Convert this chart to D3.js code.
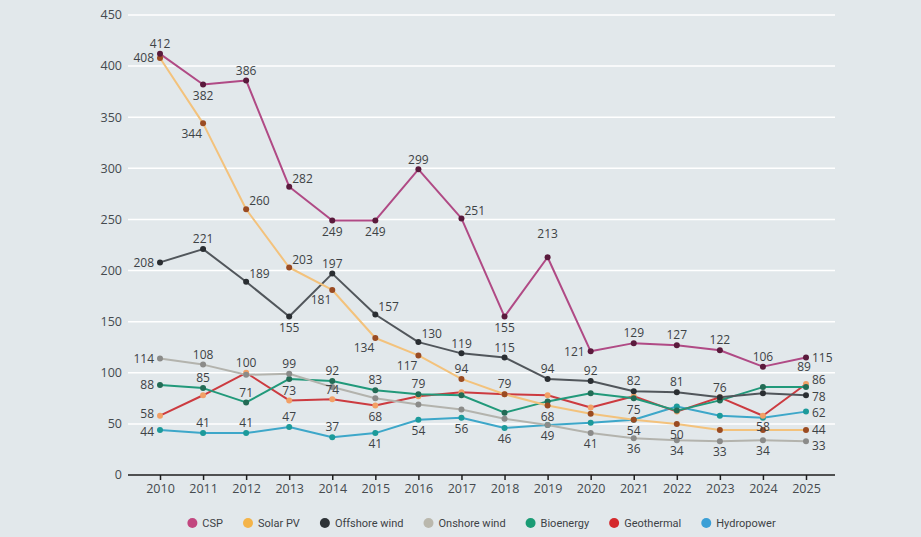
<!DOCTYPE html>
<html>
<head>
<meta charset="utf-8">
<script src="https://cdn.jsdelivr.net/npm/d3@7"></script>
<style>
  html, body { margin: 0; padding: 0; background: #e2e8eb; }
  svg { display: block; font-family: "Open Sans", sans-serif; }
</style>
</head>
<body>
<div id="chart"></div>
<script>
const years = [2010, 2011, 2012, 2013, 2014, 2015, 2016, 2017, 2018, 2019, 2020, 2021, 2022, 2023, 2024, 2025];
const yTicks = [0, 50, 100, 150, 200, 250, 300, 350, 400, 450];

const csp = [412, 382, 386, 282, 249, 249, 299, 251, 155, 213, 121, 129, 127, 122, 106, 115];
const solarPv = [408, 344, 260, 203, 181, 134, 117, 94, 79, 68, 60, 54, 50, 44, 44, 44];
const offshoreWind = [208, 221, 189, 155, 197, 157, 130, 119, 115, 94, 92, 82, 81, 76, 80, 78];
const onshoreWind = [114, 108, 98, 99, 86, 75, 69, 64, 55, 49, 41, 36, 34, 33, 34, 33];
const bioenergy = [88, 85, 71, 94, 92, 83, 79, 78, 61, 72, 80, 75, 63, 73, 86, 86];
const geothermal = [58, 78, 100, 73, 74, 68, 77, 81, 79, 78, 66, 77, 62, 76, 58, 89];
const hydropower = [44, 41, 41, 47, 37, 41, 54, 56, 46, 49, 51, 54, 67, 58, 56, 62];

// where each value label sits: a=above b=below l=left r=right ar=above-right bl=below-left aa=high above,
// ah = a bit higher, lu/ld = left nudged up/down, ''=none
const cspLbl = ['a', 'b', 'a', 'ar', 'b', 'b', 'a', 'ar', 'b', 'aa', 'l', 'a', 'a', 'a', 'a', 'r'];
const solarPvLbl = ['l', 'bl', 'ar', 'ar', 'bl', 'bl', 'bl', 'a', 'a', 'b', '', '', 'b', '', '', 'r'];
const offshoreLbl = ['l', 'a', 'ar', 'b', 'a', 'ar', 'ar', 'a', 'a', 'a', 'a', 'a', 'a', 'a', '', 'r'];
const onshoreLbl = ['l', 'a', '', 'a', '', '', '', '', '', '', 'b', 'b', 'b', 'b', 'b', 'r'];
const bioLbl = ['l', 'a', 'a', '', 'a', 'a', 'a', '', '', '', '', 'b', '', '', '', 'r'];
const geoLbl = ['lu', '', 'a', 'a', 'a', 'b', '', '', '', '', '', '', '', '', 'b', 'ah'];
const hydroLbl = ['ld', 'a', 'a', 'a', 'a', 'b', 'b', 'b', 'b', 'b', '', 'b', '', '', '', 'r'];

const series = [
    { name: 'CSP', values: csp, labels: cspLbl, line: '#b04a85', dot: '#5a1a3c', key: '#c2477f' },
    { name: 'Solar PV', values: solarPv, labels: solarPvLbl, line: '#f3c27c', dot: '#9a4b22', key: '#f4b449' },
    { name: 'Offshore wind', values: offshoreWind, labels: offshoreLbl, line: '#51565b', dot: '#2a2e32', key: '#2e3337' },
    { name: 'Onshore wind', values: onshoreWind, labels: onshoreLbl, line: '#b3b3ad', dot: '#8b8b89', key: '#bab8ad' },
    { name: 'Bioenergy', values: bioenergy, labels: bioLbl, line: '#21997a', dot: '#236b55', key: '#1a9c75' },
    { name: 'Geothermal', values: geothermal, labels: geoLbl, line: '#cc3b40', dot: '#f2a066', key: '#d4292c' },
    { name: 'Hydropower', values: hydropower, labels: hydroLbl, line: '#3da7c9', dot: '#1c9a9a', key: '#3a9fd6' }
];

const W = 921, H = 537;
const plot = { left: 128, right: 835, top: 15, bottom: 475 };

const svg = d3.select('#chart').append('svg')
    .attr('width', W)
    .attr('height', H);

svg.append('rect').attr('width', W).attr('height', H).attr('fill', '#e2e8eb');

const x = d3.scaleLinear().domain([2010, 2025]).range([160, 806]);
const y = d3.scaleLinear().domain([0, 450]).range([plot.bottom, plot.top]);

// gridlines + y labels
const grid = svg.append('g');
grid.selectAll('line')
    .data(yTicks.filter(t => t > 0))
    .enter().append('line')
    .attr('x1', plot.left).attr('x2', plot.right)
    .attr('y1', d => y(d)).attr('y2', d => y(d))
    .attr('stroke', '#ffffff')
    .attr('stroke-width', 1.5);

grid.selectAll('text')
    .data(yTicks)
    .enter().append('text')
    .attr('x', 122)
    .attr('y', d => y(d))
    .attr('dy', '.35em')
    .attr('text-anchor', 'end')
    .attr('font-size', 12.5)
    .attr('fill', '#454a4e')
    .text(d => d);

// x axis
const xAxis = d3.axisBottom(x)
    .tickValues(years)
    .tickFormat(d3.format('d'))
    .tickSize(5)
    .tickPadding(4);

const xg = svg.append('g')
    .attr('transform', `translate(0,${plot.bottom})`)
    .call(xAxis);
xg.select('.domain').remove();
xg.append('line')
    .attr('x1', plot.left).attr('x2', plot.right)
    .attr('stroke', '#1e1e1e').attr('stroke-width', 1.5);
xg.selectAll('.tick line').attr('stroke', '#1e1e1e').attr('stroke-width', 1.5);
xg.selectAll('.tick text')
    .attr('font-size', 12.5)
    .attr('font-family', '"Open Sans", sans-serif')
    .attr('fill', '#454a4e');

// lines
const line = d3.line()
    .x((d, i) => x(years[i]))
    .y(d => y(d));

const lines = svg.append('g');
series.slice().reverse().forEach(s => {
    lines.append('path')
        .datum(s.values)
        .attr('fill', 'none')
        .attr('stroke', s.line)
        .attr('stroke-width', 2)
        .attr('stroke-linejoin', 'round')
        .attr('d', line);
});

const dots = svg.append('g');
series.slice().reverse().forEach(s => {
    dots.selectAll(null)
        .data(s.values)
        .enter().append('circle')
        .attr('cx', (d, i) => x(years[i]))
        .attr('cy', d => y(d))
        .attr('r', 3)
        .attr('fill', s.dot);
});

// value labels
const place = {
    a: { dx: 0, dy: -10, anchor: 'middle' },
    ah: { dx: -2, dy: -17, anchor: 'middle' },
    aa: { dx: 0, dy: -23, anchor: 'middle' },
    b: { dx: 0, dy: 11, anchor: 'middle' },
    l: { dx: -6, dy: 0, anchor: 'end' },
    lu: { dx: -6, dy: -2, anchor: 'end' },
    ld: { dx: -6, dy: 2, anchor: 'end' },
    r: { dx: 6, dy: 0, anchor: 'start' },
    ar: { dx: 3, dy: -8, anchor: 'start' },
    bl: { dx: -1, dy: 10, anchor: 'end' }
};

let pts = [];
series.forEach(s => {
    s.values.forEach((v, i) => {
        let p = place[s.labels[i]];
        if (!p) return;
        pts.push({ v: v, code: s.labels[i], x: x(years[i]) + p.dx, y: y(v) + p.dy, anchor: p.anchor });
    });
});

// the end-of-line column is crowded: spread it out a little
let col = pts.filter(d => d.code === 'r' && d.x > 800).sort((a, b) => a.y - b.y);
const minGap = 16.5;
let spread = () => {
    for (let i = 1; i < col.length; i++) {
        col[i].y = Math.max(col[i].y, col[i - 1].y + minGap);
    }
};
col.forEach(d => d.y0 = d.y);
spread();
let shift = d3.mean(col.slice(1), d => d.y - d.y0);
col.slice(1).forEach(d => d.y -= shift);
spread();

svg.append('g').selectAll('text')
    .data(pts)
    .enter().append('text')
    .attr('x', d => d.x)
    .attr('y', d => d.y)
    .attr('dy', '.35em')
    .attr('text-anchor', d => d.anchor)
    .attr('font-size', 12)
    .attr('fill', '#3d4245')
    .text(d => d.v);

// legend, centred under the plot
const legend = svg.append('g').attr('transform', 'translate(0,523)');
let items = legend.selectAll('g')
    .data(series)
    .enter().append('g');

items.append('circle')
    .attr('r', 5)
    .attr('fill', d => d.key);

items.append('text')
    .attr('x', 10)
    .attr('dy', '.35em')
    .attr('font-family', 'Roboto, sans-serif')
    .attr('font-size', 11)
    .attr('fill', '#3d4245')
    .text(d => d.name);

let widths = [];
items.each(function () {
    widths.push(15 + d3.select(this).select('text').node().getComputedTextLength());
});
const gap = 20;
let total = d3.sum(widths) + gap * (widths.length - 1);
let cx = (plot.left + plot.right) / 2 - total / 2 + 5;
items.attr('transform', (d, i) => {
    let pos = cx;
    cx += widths[i] + gap;
    return `translate(${pos},0)`;
});
</script>
</body>
</html>
